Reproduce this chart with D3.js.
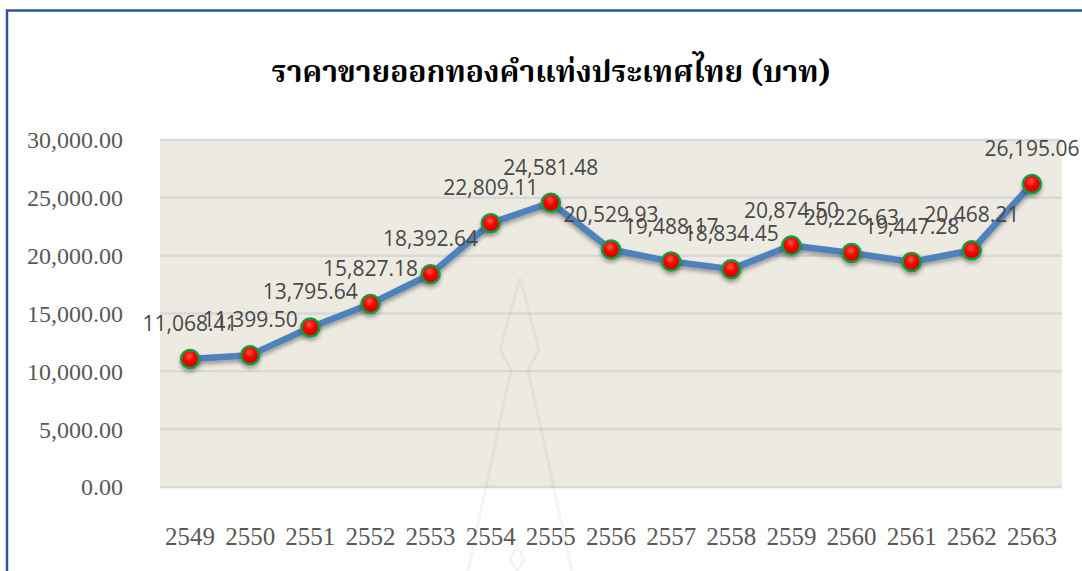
<!DOCTYPE html>
<html>
<head>
<meta charset="utf-8">
<style>
  body { margin: 0; background: #ffffff; }
  svg { display: block; }
  .serif { font-family: "Liberation Serif", "Times New Roman", serif; }
</style>
</head>
<body>
<svg id="svg"></svg>
<script src="https://cdn.jsdelivr.net/npm/d3@7"></script>
<script>
  // data
  var years = ["2549", "2550", "2551", "2552", "2553", "2554", "2555", "2556",
    "2557", "2558", "2559", "2560", "2561", "2562", "2563"];
  var prices = [11068.41, 11399.50, 13795.64, 15827.18, 18392.64, 22809.11, 24581.48,
    20529.93, 19488.17, 18834.45, 20874.50, 20226.63, 19447.28, 20468.21, 26195.06];
  var yTicks = [0, 5000, 10000, 15000, 20000, 25000, 30000];
  var title = "ราคาขายออกทองคำแท่งประเทศไทย (บาท)";

  var width = 1082,
    height = 571;

  var svg = d3.select("#svg").attr("width", width).attr("height", height);

  var plot = { left: 160, right: 1062, top: 140, bottom: 487 };

  var x = d3.scaleBand().domain(years).range([plot.left, plot.right]);
  var y = d3.scaleLinear().domain([0, 30000]).range([plot.bottom, plot.top]);

  var defs = svg.append("defs");

  var grad = defs.append("radialGradient")
    .attr("id", "ball")
    .attr("cx", "45%").attr("cy", "35%").attr("r", "65%");
  grad.append("stop").attr("offset", "0%").attr("stop-color", "#ff5a4a");
  grad.append("stop").attr("offset", "45%").attr("stop-color", "#ff0000");
  grad.append("stop").attr("offset", "100%").attr("stop-color", "#c80000");

  var shadow = defs.append("filter").attr("id", "shadow")
    .attr("x", "-20%").attr("y", "-20%").attr("width", "140%").attr("height", "160%");
  shadow.append("feDropShadow")
    .attr("dx", 0).attr("dy", 3).attr("stdDeviation", 2)
    .attr("flood-color", "#000").attr("flood-opacity", 0.35);

  // plot background
  svg.append("rect")
    .attr("x", plot.left).attr("y", plot.top)
    .attr("width", plot.right - plot.left).attr("height", plot.bottom - plot.top)
    .attr("fill", "#edebe1");

  // gridlines
  svg.append("g")
    .selectAll("line")
    .data(yTicks)
    .enter()
    .append("line")
    .attr("x1", plot.left).attr("x2", plot.right)
    .attr("y1", function (d) { return y(d); })
    .attr("y2", function (d) { return y(d); })
    .attr("stroke", "#d9d9dc")
    .attr("stroke-width", 2.5);

  // faint watermark outline behind the data
  svg.append("path")
    .attr("d", "M520,278 L539,350 L528,370 L572,571 M520,278 L500,350 L511,370 L468,571 M517,545 L524,560 L517,571 L510,560 Z")
    .attr("fill", "none")
    .attr("stroke", "#000")
    .attr("stroke-opacity", 0.045)
    .attr("stroke-width", 3);

  // y axis labels
  var yAxis = d3.axisLeft(y)
    .tickValues(yTicks)
    .tickSize(0)
    .tickPadding(0)
    .tickFormat(d3.format(",.2f"));

  var gy = svg.append("g")
    .attr("transform", "translate(123,0)")
    .call(yAxis)
    .attr("font-family", null)
    .attr("font-size", null);
  gy.select(".domain").remove();
  gy.selectAll("text")
    .attr("class", "serif")
    .style("font-size", "24px")
    .attr("fill", "#595959")
    .attr("dy", "0.33em");

  // x axis labels
  var xAxis = d3.axisBottom(x).tickSize(0).tickPadding(0);
  var gx = svg.append("g")
    .attr("transform", "translate(0,545)")
    .call(xAxis)
    .attr("font-family", null)
    .attr("font-size", null);
  gx.select(".domain").remove();
  gx.selectAll("text")
    .attr("class", "serif")
    .style("font-size", "25px")
    .attr("fill", "#595959")
    .attr("dy", 0);

  // line
  var line = d3.line()
    .x(function (d, i) { return x(years[i]) + x.bandwidth() / 2; })
    .y(function (d) { return y(d); });

  svg.append("path")
    .datum(prices)
    .attr("d", line)
    .attr("fill", "none")
    .attr("stroke", "#4f81bd")
    .attr("stroke-width", 6.5)
    .attr("stroke-linejoin", "round")
    .attr("filter", "url(#shadow)");

  // markers
  svg.append("g")
    .selectAll("circle")
    .data(prices)
    .enter()
    .append("circle")
    .attr("cx", function (d, i) { return x(years[i]) + x.bandwidth() / 2; })
    .attr("cy", function (d) { return y(d); })
    .attr("r", 9)
    .attr("fill", "url(#ball)")
    .attr("stroke", "#159a3c")
    .attr("stroke-width", 2.5)
    .attr("filter", "url(#shadow)");

  // data labels
  svg.append("g")
    .selectAll("text")
    .data(prices)
    .enter()
    .append("text")
    .attr("x", function (d, i) { return x(years[i]) + x.bandwidth() / 2; })
    .attr("y", function (d) { return y(d) - 28; })
    .attr("text-anchor", "middle")
    .style("font-family", "'Open Sans', sans-serif")
    .style("font-size", "21px")
    .attr("fill", "#484848")
    .text(d3.format(",.2f"));

  // title
  svg.append("text")
    .attr("x", 551)
    .attr("y", 82)
    .attr("text-anchor", "middle")
    .style("font-family", "'Noto Serif Thai', 'Loma', 'Garuda', 'Liberation Serif', serif")
    .style("font-weight", "bold")
    .style("font-size", "30px")
    .attr("fill", "#000")
    .text(title);

  // frame border (top and left)
  svg.append("path")
    .attr("d", "M1082,10.5 L7,10.5 L7,571")
    .attr("fill", "none")
    .attr("stroke", "#2e5597")
    .attr("stroke-width", 2.5);
</script>
</body>
</html>
